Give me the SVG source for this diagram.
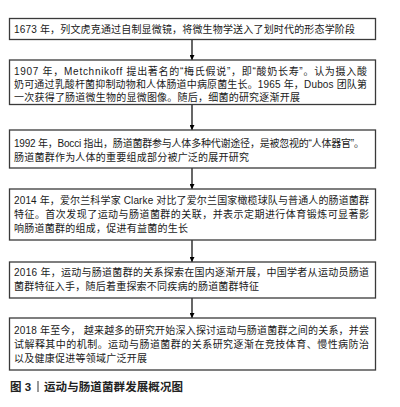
<svg xmlns="http://www.w3.org/2000/svg" width="400" height="407" viewBox="0 0 400 407">
<style>
.box{fill:#fff;stroke:#3a3a3a;stroke-width:1.3}
.t{font-family:"Liberation Sans","Noto Sans CJK SC",sans-serif;font-size:10px;fill:#1a1a1a}
.cap{font-family:"Liberation Sans","Noto Sans CJK SC",sans-serif;font-size:11.5px;fill:#222;font-weight:bold}
.conn{stroke:#000;stroke-width:1.2;fill:none}
</style>
<defs>
<marker id="ah" viewBox="0 0 10 10" refX="10" refY="5" markerWidth="5" markerHeight="5" orient="auto" markerUnits="userSpaceOnUse">
<path d="M0,0 L10,5 L0,10 z" fill="#000"/>
</marker>
</defs>
<rect width="400" height="407" fill="#fff"/>
<g id="connectors">
<line class="conn" x1="192" y1="39.5" x2="192" y2="60" marker-end="url(#ah)"/>
<line class="conn" x1="192" y1="104.5" x2="192" y2="130" marker-end="url(#ah)"/>
<line class="conn" x1="192" y1="168" x2="192" y2="189" marker-end="url(#ah)"/>
<line class="conn" x1="192" y1="240" x2="192" y2="262" marker-end="url(#ah)"/>
<line class="conn" x1="192" y1="298" x2="192" y2="318" marker-end="url(#ah)"/>
</g>
<g id="n1">
<rect class="box" x="9.5" y="18.5" width="366" height="21"/>
<text class="t" x="14" y="32.5" textLength="341" lengthAdjust="spacing">1673 年，列文虎克通过自制显微镜，将微生物学送入了划时代的形态学阶段</text>
</g>
<g id="n2">
<rect class="box" x="9.5" y="60" width="366" height="44.5"/>
<text class="t" x="14" y="74.5" textLength="353" lengthAdjust="spacing">1907 年，Metchnikoff 提出著名的“梅氏假说”，即“酸奶长寿”。认为摄入酸</text>
<text class="t" x="14" y="88" textLength="353" lengthAdjust="spacing">奶可通过乳酸杆菌抑制动物和人体肠道中病原菌生长。1965 年，Dubos 团队第</text>
<text class="t" x="14" y="101" textLength="286" lengthAdjust="spacing">一次获得了肠道微生物的显微图像。随后，细菌的研究逐渐开展</text>
</g>
<g id="n3">
<rect class="box" x="9.5" y="130" width="366" height="38"/>
<text class="t" x="14" y="146.5" textLength="350" lengthAdjust="spacing">1992 年，Bocci 指出，肠道菌群参与人体多种代谢途径，是被忽视的“人体器官”。</text>
<text class="t" x="14" y="161" textLength="235" lengthAdjust="spacing">肠道菌群作为人体的重要组成部分被广泛的展开研究</text>
</g>
<g id="n4">
<rect class="box" x="9.5" y="189" width="366" height="51"/>
<text class="t" x="14" y="204" textLength="355" lengthAdjust="spacing">2014 年，爱尔兰科学家 Clarke 对比了爱尔兰国家橄榄球队与普通人的肠道菌群</text>
<text class="t" x="14" y="217.5" textLength="355" lengthAdjust="spacing">特征。首次发现了运动与肠道菌群的关联，并表示定期进行体育锻炼可显著影</text>
<text class="t" x="14" y="231.5" textLength="174" lengthAdjust="spacing">响肠道菌群的组成，促进有益菌的生长</text>
</g>
<g id="n5">
<rect class="box" x="9.5" y="262" width="366" height="36"/>
<text class="t" x="14" y="275.5" textLength="355" lengthAdjust="spacing">2016 年，运动与肠道菌群的关系探索在国内逐渐开展，中国学者从运动员肠道</text>
<text class="t" x="14" y="290" textLength="245" lengthAdjust="spacing">菌群特征入手，随后着重探索不同疾病的肠道菌群特征</text>
</g>
<g id="n6">
<rect class="box" x="9.5" y="318" width="366" height="52"/>
<text class="t" x="14" y="333.5" textLength="355" lengthAdjust="spacing">2018 年至今， 越来越多的研究开始深入探讨运动与肠道菌群之间的关系，并尝</text>
<text class="t" x="14" y="347.5" textLength="355" lengthAdjust="spacing">试解释其中的机制。运动与肠道菌群的关系研究逐渐在竞技体育、慢性病防治</text>
<text class="t" x="14" y="361.5" textLength="133" lengthAdjust="spacing">以及健康促进等领域广泛开展</text>
</g>
<g id="caption">
<text class="cap" x="10" y="391">图 3</text>
<line x1="38" y1="381" x2="38" y2="392" stroke="#555" stroke-width="1.2"/>
<text class="cap" x="44" y="391" textLength="139" lengthAdjust="spacing">运动与肠道菌群发展概况图</text>
</g>
</svg>
